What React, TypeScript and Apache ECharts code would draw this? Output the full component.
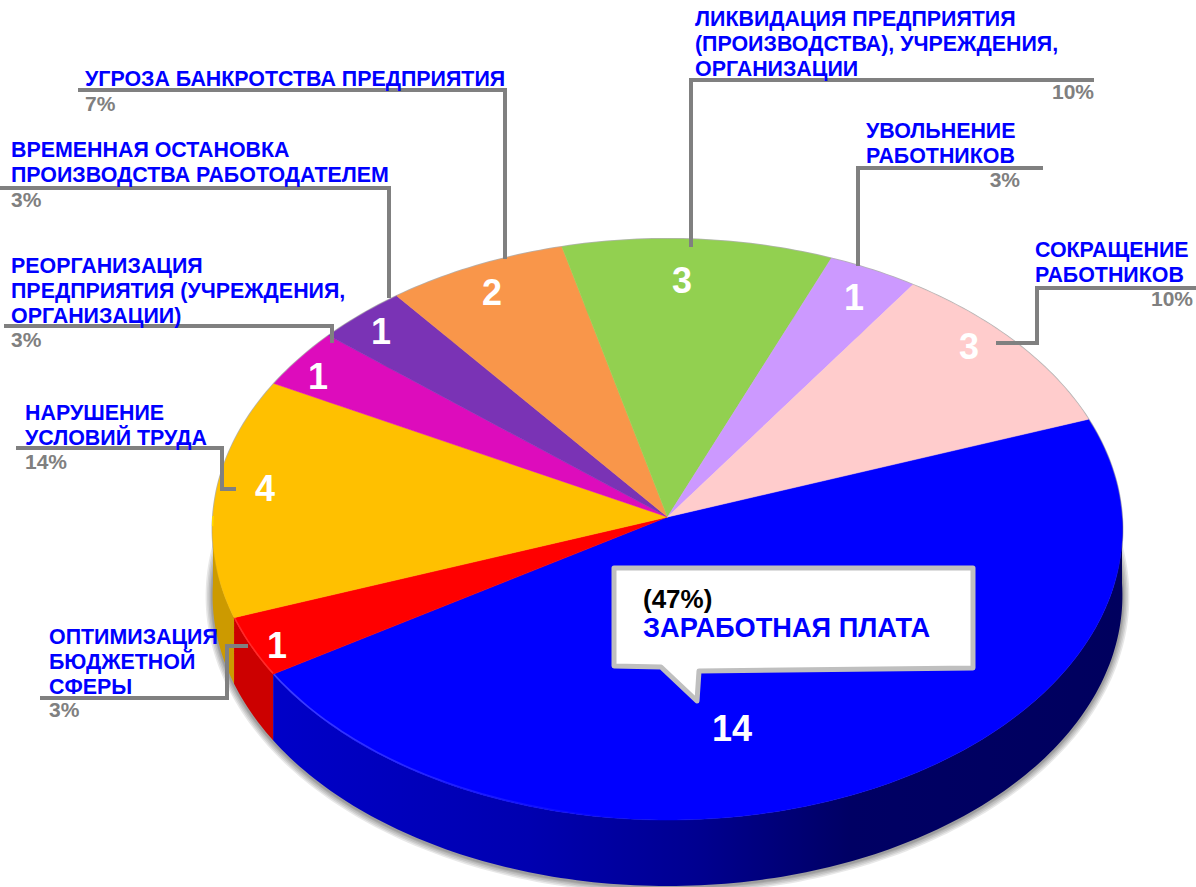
import React, { useEffect, useRef } from "react";
import * as echarts from "echarts";

// ---- data ----
const categories = [
  "ЗАРАБОТНАЯ ПЛАТА",
  "ОПТИМИЗАЦИЯ\nБЮДЖЕТНОЙ\nСФЕРЫ",
  "НАРУШЕНИЕ\nУСЛОВИЙ ТРУДА",
  "РЕОРГАНИЗАЦИЯ\nПРЕДПРИЯТИЯ (УЧРЕЖДЕНИЯ,\nОРГАНИЗАЦИИ)",
  "ВРЕМЕННАЯ ОСТАНОВКА\nПРОИЗВОДСТВА РАБОТОДАТЕЛЕМ",
  "УГРОЗА БАНКРОТСТВА ПРЕДПРИЯТИЯ",
  "ЛИКВИДАЦИЯ ПРЕДПРИЯТИЯ\n(ПРОИЗВОДСТВА), УЧРЕЖДЕНИЯ,\nОРГАНИЗАЦИИ",
  "УВОЛЬНЕНИЕ\nРАБОТНИКОВ",
  "СОКРАЩЕНИЕ\nРАБОТНИКОВ",
];
const values = [14, 1, 4, 1, 1, 2, 3, 1, 3];
const percents = ["(47%)", "3%", "14%", "3%", "3%", "7%", "10%", "3%", "10%"];

// ---- styles and layout, apart from the data ----
const topColors = ["#0000FF", "#FF0000", "#FFC000", "#DD0CBC", "#7A33B5", "#F9964A", "#92D050", "#CC99FF", "#FFCCCC"];
const sideColors: any[] = [
  new echarts.graphic.LinearGradient(0, 0, 1, 0, [
    { offset: 0, color: "#0000C8" },
    { offset: 0.3, color: "#0000B0" },
    { offset: 0.5, color: "#000090" },
    { offset: 0.68, color: "#000064" },
    { offset: 1, color: "#00005E" },
  ]),
  "#CC0000",
  "#CC9A00",
  "#000", "#000", "#000", "#000", "#000", "#000",
];
const rimColors: any[] = [
  new echarts.graphic.LinearGradient(0, 0, 1, 0, [
    { offset: 0, color: "rgba(70,70,255,0.9)" },
    { offset: 1, color: "rgba(70,70,255,0)" },
  ]),
  "#FF2A2A",
  "#FFDC00",
  "", "", "", "", "", "",
];
const valueLabelAt = [[732, 728], [277, 645], [265, 488], [318, 376], [381, 331], [492, 292], [682, 280], [854, 297], [969, 346]];
const nameAt: any[] = [
  null,
  [49, 645], [25, 421], [11, 274], [11, 158], [85, 87], [695, 27], [866, 139], [1035, 258],
];
const percentAt: any[] = [
  null,
  [49, 717, "left"], [25, 469, "left"], [11, 347, "left"], [11, 207, "left"], [85, 111, "left"],
  [1094, 99, "right"], [1020, 187, "right"], [1193, 306, "right"],
];
const leaders = [
  [[248, 646], [227, 646], [227, 698], [40, 698]],
  [[16, 448], [222, 448], [222, 489], [236, 489]],
  [[4, 326], [332, 326], [332, 343]],
  [[0, 188], [389, 188], [389, 298]],
  [[78, 90], [505, 90], [505, 259]],
  [[691, 247], [691, 80], [1094, 80]],
  [[858, 266], [858, 168], [1043, 168]],
  [[996, 343], [1037, 343], [1037, 288], [1196, 288]],
];
const bubble = [[614, 568], [973, 568], [973, 668], [699, 671], [697, 701], [661, 667], [614, 666]];

const CX = 667.5, CY = 517, RX = 454.5, RY = 290, PERSP = 0.043, DEPTH = 66, START = 20;
const FONT = '"Liberation Sans", Arial, sans-serif';

const project = (deg: number, dy = 0): number[] => {
  const t = (deg * Math.PI) / 180;
  const w = 1 + PERSP * Math.sin(t);
  return [CX + (RX * Math.cos(t)) / w, CY + dy - (RY * Math.sin(t)) / w];
};
const arc = (a0: number, a1: number, dy = 0) => {
  const n = Math.max(2, Math.ceil(Math.abs(a0 - a1)));
  const pts: number[][] = [];
  for (let i = 0; i <= n; i++) pts.push(project(a0 + ((a1 - a0) * i) / n, dy));
  return pts;
};
const total = values.reduce((a, b) => a + b, 0);
const spanOf = (i: number) => {
  let before = 0;
  for (let k = 0; k < i; k++) before += values[k];
  const a0 = START - (before / total) * 360;
  return [a0, a0 - (values[i] / total) * 360];
};

const textEl = (text: string, x: number, baseline: number, size: number, fill: string, align = "left") => ({
  type: "text",
  z: 100,
  style: {
    text, x, y: baseline - size * 0.358, fill, align,
    verticalAlign: "middle",
    font: `bold ${size}px ${FONT}`,
  },
});

export default function App() {
  const ref = useRef<HTMLDivElement>(null);
  useEffect(() => {
    document.body.style.margin = "0";
    const chart = echarts.init(ref.current!, undefined, { renderer: "svg" });
    const seriesData = values.map((v) => [v]);

    const graphic: any[] = [];
    leaders.forEach((points) =>
      graphic.push({
        type: "polyline", z: 90,
        shape: { points },
        style: { stroke: "#808080", lineWidth: 4, fill: "none", lineJoin: "miter" },
      })
    );
    graphic.push({
      type: "polygon", z: 95,
      shape: { points: bubble },
      style: { fill: "#FFFFFF", stroke: "#BFBFBF", lineWidth: 5, lineJoin: "round" },
    });
    categories.forEach((name, i) => {
      if (i === 0) return;
      name.split("\n").forEach((line, j) =>
        graphic.push(textEl(line, nameAt[i][0], nameAt[i][1] + j * 24.6, 21.4, "#0000FF"))
      );
      graphic.push(textEl(percents[i], percentAt[i][0], percentAt[i][1], 21, "#808080", percentAt[i][2]));
    });
    graphic.push(textEl(percents[0], 643, 608, 26, "#000000"));
    graphic.push(textEl(categories[0], 643, 637, 27.2, "#0000FF"));

    // soft halo round the foot of the pie, and a fine one round its top
    const halo = (dy: number, widths: number[], alpha: number) =>
      widths.map((lineWidth) => ({
        type: "polygon",
        shape: { points: arc(0, 360, dy) },
        style: { fill: "none", stroke: `rgba(0,0,0,${alpha})`, lineWidth },
      }));

    chart.setOption({
      animation: false,
      backgroundColor: "#FFFFFF",
      graphic,
      series: [
        {
          type: "custom", coordinateSystem: "none", z: 1, silent: true,
          data: [[0]],
          renderItem: () => ({
            type: "group",
            children: [
              ...halo(DEPTH + 1, [14, 11, 8, 5, 3], 0.09),
              ...halo(0, [2], 0.3),
            ],
          }),
        },
        {
          type: "custom", coordinateSystem: "none", z: 2, silent: true,
          data: seriesData,
          renderItem: (p: any) => {
            const [a0, a1] = spanOf(p.dataIndex);
            const hi = Math.min(a0, 0), lo = Math.max(a1, -180);
            if (hi <= lo) return { type: "group", children: [] };
            return {
              type: "polygon",
              shape: { points: [...arc(hi, lo, 0), ...arc(lo, hi, DEPTH)] },
              style: { fill: sideColors[p.dataIndex] },
            };
          },
        },
        {
          type: "custom", coordinateSystem: "none", z: 3, silent: true,
          data: seriesData,
          renderItem: (p: any, api: any) => {
            const i = p.dataIndex;
            const [a0, a1] = spanOf(i);
            const hi = Math.min(a0, -95), lo = Math.max(a1, -180);
            const children: any[] = [
              {
                type: "polygon",
                shape: { points: [[CX, CY], ...arc(a0, a1, 0)] },
                style: { fill: topColors[i], stroke: topColors[i], lineWidth: 0.5 },
              },
            ];
            if (rimColors[i] && hi > lo) {
              children.push({
                type: "polyline",
                shape: { points: i === 2 ? arc(-178, lo, -1) : arc(lo, hi, -1) },
                style: { stroke: rimColors[i], lineWidth: 1.5, fill: "none" },
              });
            }
            children.push({
              type: "text",
              style: {
                text: String(api.value(0)),
                x: valueLabelAt[i][0], y: valueLabelAt[i][1],
                align: "center", verticalAlign: "middle",
                fill: "#FFFFFF",
                font: `bold 36px ${FONT}`,
              },
            });
            return { type: "group", children };
          },
        },
      ],
    });
    return () => chart.dispose();
  }, []);
  return <div ref={ref} style={{ position: "absolute", left: 0, top: 0, width: 1196, height: 887 }} />;
}
